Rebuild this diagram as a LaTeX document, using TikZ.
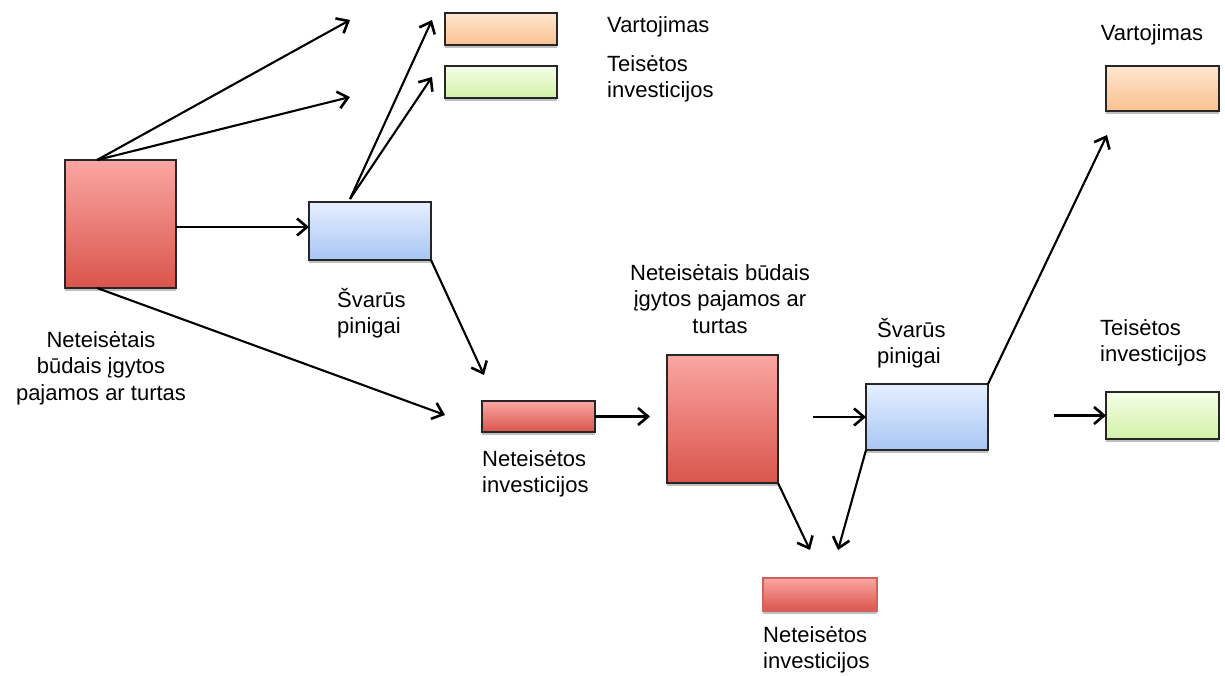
\documentclass[tikz,border=0pt]{standalone}
\usepackage{fontspec}
\setmainfont{Liberation Sans}
\usetikzlibrary{arrows.meta,shadows}
\definecolor{rtop}{HTML}{FBA6A2}
\definecolor{rbot}{HTML}{D9554C}
\definecolor{btop}{HTML}{E6EFFF}
\definecolor{bbot}{HTML}{A8C6F4}
\definecolor{otop}{HTML}{FEE6D0}
\definecolor{obot}{HTML}{FBC090}
\definecolor{gtop}{HTML}{F5FDE8}
\definecolor{gbot}{HTML}{D2F2A6}
\definecolor{jline}{HTML}{D0625C}
\begin{document}
\begin{tikzpicture}[x=1pt,y=-1pt,
  box/.style={draw=black!85, line width=1.4pt, inner sep=0pt, outer sep=0pt,
    drop shadow={shadow xshift=0pt, shadow yshift=-2.5pt, opacity=0.25, fill=black}},
  redbox/.style={box, top color=rtop, bottom color=rbot},
  bluebox/.style={box, top color=btop, bottom color=bbot},
  orangebox/.style={box, top color=otop, bottom color=obot},
  greenbox/.style={box, top color=gtop, bottom color=gbot},
  lbl/.style={font=\fontsize{22}{26.5}\selectfont, inner sep=0pt},
  arr/.style={line width=2.1pt, -{Straight Barb[length=10pt,width=17pt,line width=2.6pt]}}
]
\useasboundingbox (0,0) rectangle (1225,675);

% boxes
\node[redbox, minimum width=111pt, minimum height=128pt] (A) at (120.5,224) {};
\node[bluebox, minimum width=122pt, minimum height=58pt] (B) at (370,231) {};
\node[orangebox, minimum width=112pt, minimum height=32pt] (C) at (501,29) {};
\node[greenbox, minimum width=112pt, minimum height=32pt] (D) at (501,82) {};
\node[redbox, minimum width=113pt, minimum height=31pt] (E) at (538.5,416.5) {};
\node[redbox, minimum width=111pt, minimum height=128pt] (F) at (722.5,419) {};
\node[bluebox, minimum width=122pt, minimum height=66pt] (G) at (927,417) {};
\node[orangebox, minimum width=113pt, minimum height=45pt] (H) at (1162.5,88.5) {};
\node[greenbox, minimum width=113pt, minimum height=47pt] (I) at (1162.5,415.5) {};
\node[redbox, draw=jline, minimum width=114pt, minimum height=33pt] (J) at (820,594.5) {};

% labels
\node[lbl, anchor=west] (lC) at (607,27) {Vartojimas};
\node[lbl, anchor=west, align=left] (lD) at (607,79) {Teisėtos\\investicijos};
\node[lbl, align=center] (lA) at (101,368) {Neteisėtais\\būdais įgytos\\pajamos ar turtas};
\node[lbl, anchor=west, align=left] (lB) at (337,313) {Švarūs\\pinigai};
\node[lbl, anchor=west, align=left] (lE) at (482,474) {Neteisėtos\\investicijos};
\node[lbl, align=center] (lF) at (720,299) {Neteisėtais būdais\\įgytos pajamos ar\\turtas};
\node[lbl, anchor=west, align=left] (lG) at (877,343) {Švarūs\\pinigai};
\node[lbl] (lH) at (1152,35) {Vartojimas};
\node[lbl, anchor=west, align=left] (lI) at (1100,343) {Teisėtos\\investicijos};
\node[lbl, anchor=west, align=left] (lJ) at (763,650) {Neteisėtos\\investicijos};

% free ends
\coordinate (e1) at (350,20);
\coordinate (e2) at (350,97);
\coordinate (e4) at (445,415);
\coordinate (e5) at (432,20);
\coordinate (e6) at (432,77);
\coordinate (e7) at (484,375);
\coordinate (e8) at (650,416.5);
\coordinate (s9) at (813,417);
\coordinate (e10) at (1107,135);
\coordinate (s11) at (1054,415.5);
\coordinate (e12) at (810,550);
\coordinate (e13) at (838,550);

% arrows
\draw[arr] ([xshift=-23.5pt]A.north) -- (e1);
\draw[arr] ([xshift=-23.5pt]A.north) -- (e2);
\draw[arr] ([yshift=-3pt]A.east) -- ([yshift=-3pt]A.east -| B.west);
\draw[arr] ([xshift=-23.5pt]A.south) -- (e4);
\draw[arr] ([xshift=-20pt,yshift=3pt]B.north) -- (e5);
\draw[arr] ([xshift=-20pt,yshift=3pt]B.north) -- (e6);
\draw[arr] (B.south east) -- (e7);
\draw[arr] (E.east) -- (e8);
\draw[arr] (s9) -- (G.west);
\draw[arr] (G.north east) -- (e10);
\draw[arr] (s11) -- (I.west);
\draw[arr] (F.south east) -- (e12);
\draw[arr] (G.south west) -- (e13);
\end{tikzpicture}
\end{document}
